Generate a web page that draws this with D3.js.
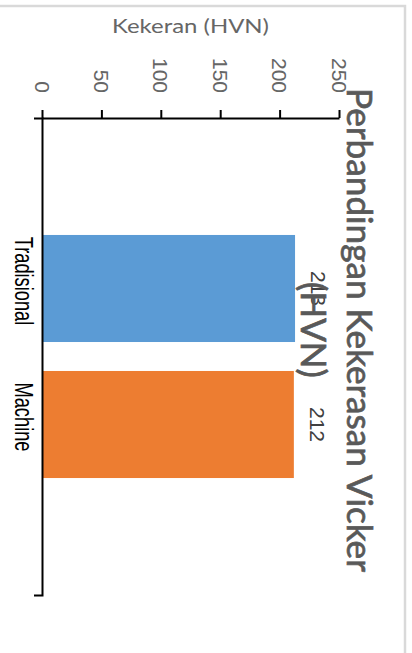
<!DOCTYPE html>
<html>
<head>
<meta charset="utf-8">
<script src="https://cdn.jsdelivr.net/npm/d3@7"></script>
<style>
  html, body { margin: 0; padding: 0; background: #fff; }
  svg { display: block; }
</style>
</head>
<body>
<svg id="chart" width="412" height="653"></svg>
<script>
// chart values (the picture is a column chart turned 90 degrees)
const categories = ["Tradisional", "Machine"];
const hardness = [213, 212];
const valueTicks = [0, 50, 100, 150, 200, 250];
const barColors = ["#5B9BD5", "#ED7D31"];
const titleLines = ["Perbandingan Kekerasan Vicker", "(HVN)"];
const axisTitle = "Kekeran (HVN)";

const svg = d3.select("#chart");

// value axis runs left to right, categories top to bottom
const x = d3.scaleLinear().domain([0, 250]).range([42, 339]);
const y = d3.scaleBand().domain(categories).range([118, 595])
    .paddingInner(0.213).paddingOuter(0.86);

// outer frame, only top and right edges show
svg.append("rect")
    .attr("x", -10).attr("y", 6)
    .attr("width", 415).attr("height", 700)
    .attr("fill", "none")
    .attr("stroke", "#d9d9d9")
    .attr("stroke-width", 2.5);

// bars
svg.selectAll(".bar")
    .data(categories)
    .enter()
    .append("rect")
        .attr("class", "bar")
        .attr("x", x(0))
        .attr("y", d => y(d))
        .attr("width", (d, i) => x(hardness[i]) - x(0))
        .attr("height", y.bandwidth())
        .attr("fill", (d, i) => barColors[i]);

// value axis with ticks pointing up
const valueAxis = svg.append("g")
    .attr("transform", `translate(0,${y.range()[0]})`)
    .call(d3.axisTop(x).tickValues(valueTicks).tickSize(8).tickSizeOuter(0).tickFormat(""));

// category axis, only end ticks
const catAxis = svg.append("g")
    .attr("transform", `translate(${x(0)},0)`)
    .call(d3.axisLeft(y).tickValues([]).tickSizeOuter(8));

[valueAxis, catAxis].forEach(g => {
    g.selectAll("path, line").attr("stroke", "#000").attr("stroke-width", 2);
});

// tick labels, turned like the rest of the chart
svg.selectAll(".tickLabel")
    .data(valueTicks)
    .enter()
    .append("text")
        .attr("class", "tickLabel")
        .attr("transform", d => `translate(${x(d) - 7.5},93) rotate(90)`)
        .attr("text-anchor", "end")
        .attr("style", "font-family: 'Liberation Sans', Arial; font-size: 21px; fill: #666")
        .text(d => d);

// value labels next to the bars
svg.selectAll(".valueLabel")
    .data(categories)
    .enter()
    .append("text")
        .attr("class", "valueLabel")
        .attr("transform", (d, i) => `translate(${x(hardness[i]) + 16},${y(d) + y.bandwidth() / 2}) rotate(90)`)
        .attr("text-anchor", "middle")
        .attr("style", "font-family: 'Liberation Sans', Arial; font-size: 21px; fill: #404040")
        .text((d, i) => hardness[i]);

// category names
svg.selectAll(".catLabel")
    .data(categories)
    .enter()
    .append("text")
        .attr("class", "catLabel")
        .attr("transform", d => `translate(15,${y(d) + y.bandwidth() / 2 - 7.5}) rotate(90) scale(0.73,1)`)
        .attr("text-anchor", "middle")
        .attr("style", "font-family: 'Liberation Sans', Arial; font-size: 25px; fill: #000")
        .text(d => d);

// axis title sits flat above the value axis
svg.append("text")
    .attr("x", (x.range()[0] + x.range()[1]) / 2)
    .attr("y", 33)
    .attr("text-anchor", "middle")
    .attr("textLength", 157)
    .attr("lengthAdjust", "spacingAndGlyphs")
    .attr("style", "font-family: Lato, 'Open Sans'; font-size: 19.5px; fill: #666")
    .text(axisTitle);

// chart title, two lines on the right edge
svg.selectAll(".title")
    .data(titleLines)
    .enter()
    .append("text")
        .attr("class", "title")
        .attr("transform", (d, i) => `translate(${347 - 46 * i},330) rotate(90)`)
        .attr("text-anchor", "middle")
        .attr("style", "font-family: Lato, 'Open Sans'; font-size: 35px; fill: #595959; stroke: #595959; stroke-width: 0.7px")
        .text(d => d);
svg.select(".title")
    .attr("textLength", 484)
    .attr("lengthAdjust", "spacingAndGlyphs");
</script>
</body>
</html>
